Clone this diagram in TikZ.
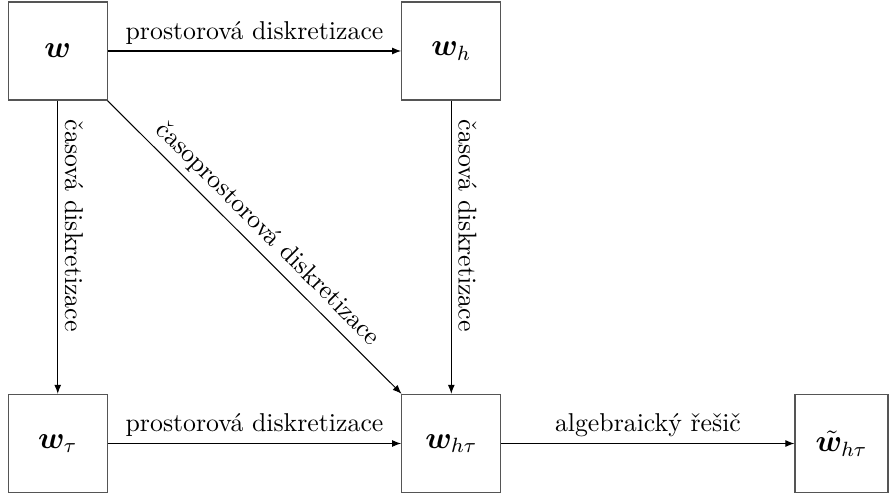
\documentclass[tikz,border=0pt]{standalone}
\usepackage{fontspec}
\usepackage{amsmath,bm}
\usetikzlibrary{arrows.meta}
\definecolor{boxgray}{RGB}{85,85,85}
\begin{document}
\begin{tikzpicture}[x=0.3876pt,y=-0.3876pt,
  box/.style={draw=boxgray, line width=0.5pt, minimum width=38.4pt, minimum height=38pt, inner sep=0pt, font=\large},
  conn/.style={-{Latex[length=3.5pt,width=2.7pt]}, line width=0.4pt},
  lab/.style={sloped, above, inner sep=2.5pt}]
\useasboundingbox (0,0) rectangle (889,499);
\node[box] (w)    at (57.75,51)   {$\bm{w}$};
\node[box] (wh)   at (451.3,51)   {$\bm{w}_h$};
\node[box] (wt)   at (57.75,443.5) {$\bm{w}_\tau$};
\node[box] (wht)  at (451.3,443.5) {$\bm{w}_{h\tau}$};
\node[box, minimum width=36pt] (wsol) at (841.5,443.5) {$\tilde{\bm{w}}_{h\tau}$};
\draw[conn] (w) -- node[lab] {prostorová diskretizace} (wh);
\draw[conn] (wt) -- node[lab] {prostorová diskretizace} (wht);
\draw[conn] (wht) -- node[lab] {algebraický řešič} (wsol);
\draw[conn] (w) -- node[lab, pos=0.427] {časová diskretizace} (wt);
\draw[conn] (wh) -- node[lab, pos=0.427] {časová diskretizace} (wht);
\draw[conn] (w) -- node[lab] {časoprostorová diskretizace} (wht);
\end{tikzpicture}
\end{document}
